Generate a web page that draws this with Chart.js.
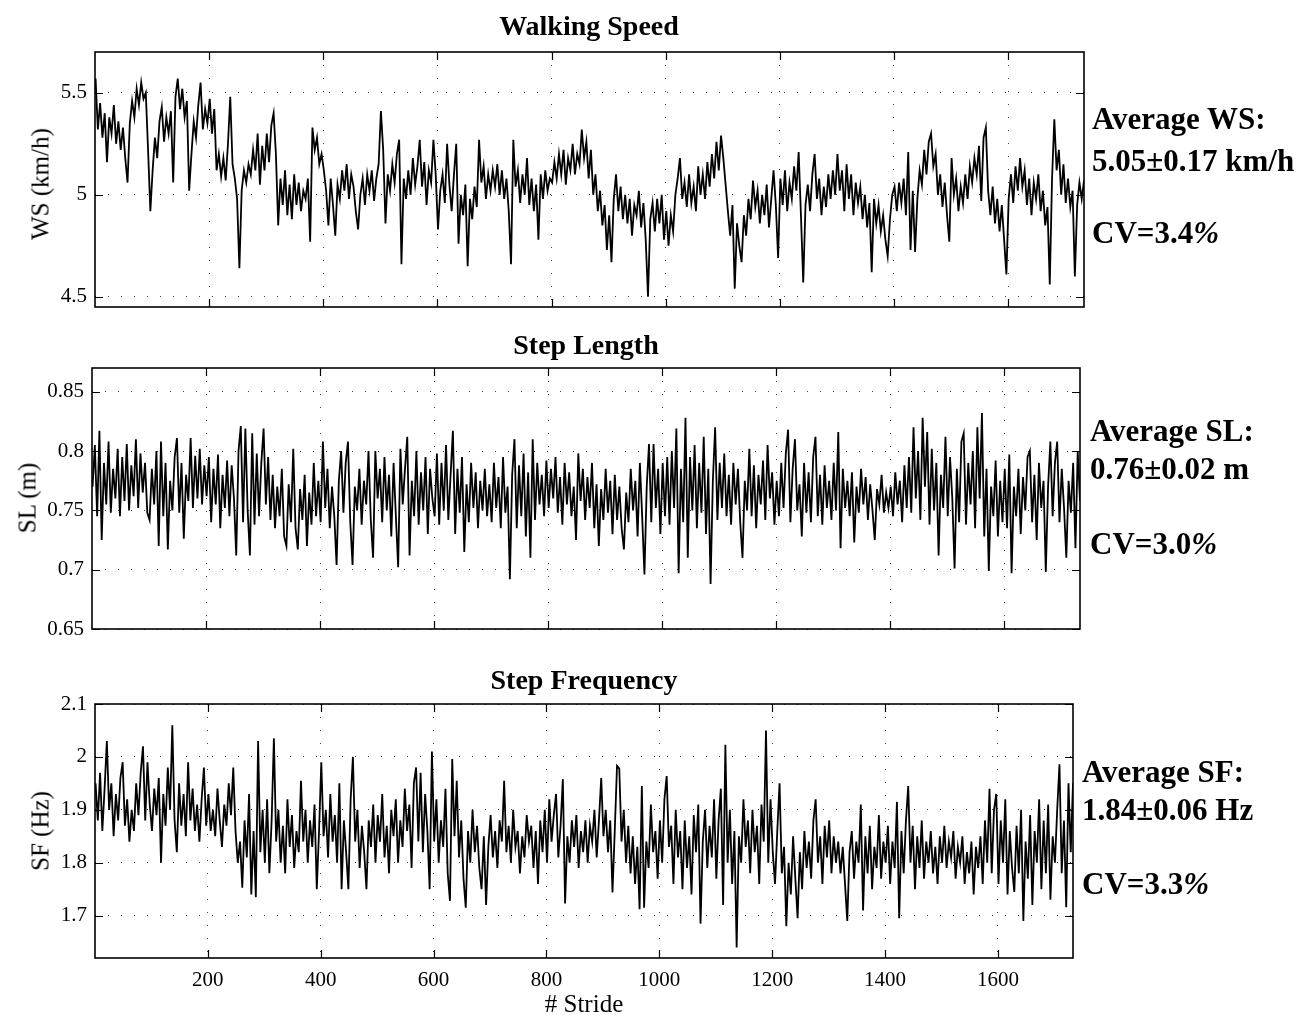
<!DOCTYPE html>
<html>
<head>
<meta charset="utf-8">
<title>Walking Speed / Step Length / Step Frequency</title>
<script src="https://cdn.jsdelivr.net/npm/chart.js@4.4.1/dist/chart.umd.min.js"></script>
<style>
  html, body { margin: 0; padding: 0; background: #fff; }
  #page { position: relative; width: 1302px; height: 1015px; overflow: hidden;
          font-family: "Liberation Serif", "Times New Roman", serif; color: #000; }
  canvas { position: absolute; left: 0; }
  .lbl { position: absolute; white-space: nowrap; line-height: 1; }
  .title { font-weight: bold; font-size: 28px; transform: translateX(-50%); }
  .ylab { font-size: 25px; transform: translate(-50%, -50%) rotate(-90deg); }
  .xlab { font-size: 25px; transform: translateX(-50%); }
  .note { font-weight: bold; font-size: 31px; }
  .note i { font-weight: bold; }
</style>
</head>
<body>
<div id="page">
  <canvas id="wsChart" width="1302" height="280" style="top:40px"></canvas>
  <canvas id="slChart" width="1302" height="295" style="top:355px"></canvas>
  <canvas id="sfChart" width="1302" height="325" style="top:690px"></canvas>

  <div class="lbl title" style="left:589px; top:12px">Walking Speed</div>
  <div class="lbl title" style="left:586px; top:331px">Step Length</div>
  <div class="lbl title" style="left:584px; top:666px">Step Frequency</div>

  <div class="lbl ylab" style="left:40px; top:184px">WS (km/h)</div>
  <div class="lbl ylab" style="left:27px; top:498px">SL (m)</div>
  <div class="lbl ylab" style="left:40px; top:831px">SF (Hz)</div>
  <div class="lbl xlab" style="left:584px; top:991px"># Stride</div>

  <div class="lbl note" style="left:1092px; top:103px">Average WS:</div>
  <div class="lbl note" style="left:1092px; top:145px">5.05±0.17 km/h</div>
  <div class="lbl note" style="left:1092px; top:217px">CV=3.4<i>%</i></div>

  <div class="lbl note" style="left:1090px; top:415px">Average SL:</div>
  <div class="lbl note" style="left:1090px; top:453px">0.76±0.02 m</div>
  <div class="lbl note" style="left:1090px; top:528px">CV=3.0<i>%</i></div>

  <div class="lbl note" style="left:1082px; top:756px">Average SF:</div>
  <div class="lbl note" style="left:1082px; top:794px">1.84±0.06 Hz</div>
  <div class="lbl note" style="left:1082px; top:868px">CV=3.3<i>%</i></div>
</div>

<script>
// one value every 4th stride (1, 5, 9, ... 1733)
const firstStride = 1;
const strideStep = 4;
const strideMax = 1733;
const strideTicks = [200, 400, 600, 800, 1000, 1200, 1400, 1600];

// walking speed, km/h
const wsValues = [
  5.57,5.32,5.45,5.28,5.40,5.16,5.38,5.30,5.44,5.25,5.36,5.22,5.33,5.18,5.06,5.35,5.46,5.38,5.52,5.44,5.55,5.47,5.50,5.22,4.92,
  5.12,5.28,5.18,5.36,5.43,5.26,5.38,5.30,5.41,5.06,5.48,5.57,5.42,5.52,5.38,5.46,5.02,5.20,5.36,5.28,5.44,5.55,5.32,5.42,5.35,
  5.47,5.30,5.42,5.12,5.20,5.09,5.18,5.07,5.25,5.48,5.15,5.08,4.98,4.64,5.02,5.12,5.06,5.15,5.10,5.22,5.12,5.30,5.05,5.24,5.12,
  5.30,5.16,5.34,5.40,5.20,4.85,5.08,4.95,5.12,4.90,5.05,4.88,5.10,4.95,5.06,4.92,5.02,4.98,5.08,4.77,5.33,5.22,5.28,5.15,5.20,
  5.12,5.02,4.85,5.08,4.95,4.80,5.05,4.98,5.12,5.02,5.15,4.98,5.10,5.04,4.92,4.83,5.00,5.08,4.95,5.10,5.02,5.12,4.97,5.08,5.15,
  5.41,5.22,4.86,5.10,5.02,5.15,5.06,5.20,5.27,4.66,5.08,4.98,5.12,5.00,5.18,5.05,5.14,5.27,5.04,5.16,4.95,5.12,5.06,5.27,5.10,
  4.83,5.02,5.10,4.96,5.25,5.05,4.92,5.10,5.25,4.76,5.00,4.90,5.05,4.65,4.98,4.88,5.04,4.94,5.27,5.06,5.14,4.98,5.10,5.02,5.12,
  5.04,5.15,5.00,5.12,4.98,5.08,4.92,4.66,5.27,5.04,5.12,4.96,5.10,5.00,5.18,4.95,5.08,4.92,5.05,4.78,5.10,4.98,5.12,5.02,5.08,
  5.06,5.16,5.08,5.20,5.10,5.22,5.05,5.18,5.12,5.25,5.10,5.20,5.15,5.32,5.18,5.26,5.08,5.22,5.00,5.10,4.92,5.02,4.85,4.95,4.73,
  4.90,4.67,4.98,5.10,4.92,5.04,4.88,5.00,4.86,4.98,4.80,4.95,4.90,5.02,4.84,4.96,4.78,4.50,4.88,4.96,4.82,4.98,4.86,5.00,4.78,
  4.92,4.75,4.90,4.82,5.00,5.08,5.18,4.98,5.06,4.94,5.10,4.96,5.04,4.92,5.14,5.00,5.10,4.98,5.16,5.04,5.20,5.08,5.26,5.12,5.29,
  5.18,5.05,4.92,4.80,4.95,4.54,4.86,4.75,4.67,4.90,4.80,4.98,4.88,5.07,4.94,5.02,4.86,5.00,4.90,5.05,4.84,4.98,5.12,4.95,4.69,
  5.08,4.95,5.12,4.92,5.06,4.98,5.14,5.02,5.21,4.90,4.57,4.95,5.05,4.92,5.10,5.20,4.98,5.08,4.90,5.04,4.94,5.10,4.98,5.12,5.00,
  5.20,5.02,5.12,4.92,5.15,4.98,5.10,4.90,5.06,4.96,5.04,4.88,5.00,4.84,4.96,4.62,4.98,4.86,4.95,4.82,4.90,4.78,4.70,4.88,5.00,
  5.04,4.92,5.06,4.96,5.08,4.90,5.21,4.73,5.02,4.72,4.98,5.12,5.05,5.22,5.10,5.26,5.30,5.14,5.20,5.00,5.10,4.94,5.06,4.90,4.77,
  5.18,5.00,5.08,4.92,5.04,4.96,5.10,4.98,5.14,5.06,5.18,5.10,5.24,4.97,5.28,5.33,5.02,4.90,5.04,4.86,4.98,4.82,4.95,4.78,4.61,
  4.98,5.10,4.96,5.14,5.02,5.18,5.04,5.12,4.95,5.08,4.90,5.06,4.98,5.10,4.92,5.02,4.85,4.94,4.56,5.08,5.37,5.12,5.22,5.00,5.15,
  4.96,5.08,4.94,5.02,4.60,4.95,5.06,4.98,5.07
];

// step length, m
const slValues = [
  0.770,0.805,0.745,0.817,0.725,0.790,0.755,0.808,0.748,0.785,0.760,0.802,0.745,0.795,0.758,0.806,0.750,0.788,0.762,0.810,0.752,0.798,0.765,0.790,0.748,
  0.742,0.785,0.755,0.800,0.720,0.808,0.745,0.790,0.717,0.775,0.750,0.795,0.811,0.748,0.790,0.726,0.780,0.758,0.811,0.752,0.796,0.760,0.802,0.755,0.788,
  0.762,0.795,0.740,0.785,0.755,0.797,0.735,0.780,0.752,0.792,0.745,0.788,0.760,0.712,0.800,0.821,0.740,0.819,0.750,0.712,0.815,0.738,0.798,0.745,0.790,
  0.819,0.755,0.795,0.742,0.780,0.735,0.770,0.745,0.785,0.728,0.720,0.772,0.740,0.802,0.735,0.717,0.768,0.742,0.780,0.720,0.765,0.738,0.790,0.745,0.775,
  0.740,0.808,0.752,0.785,0.735,0.770,0.745,0.704,0.775,0.800,0.748,0.790,0.808,0.740,0.704,0.770,0.750,0.785,0.738,0.775,0.755,0.800,0.742,0.710,0.800,
  0.760,0.785,0.740,0.795,0.750,0.780,0.728,0.790,0.745,0.702,0.802,0.755,0.785,0.812,0.712,0.775,0.745,0.800,0.738,0.782,0.750,0.795,0.730,0.785,0.760,
  0.745,0.798,0.738,0.790,0.750,0.805,0.742,0.780,0.817,0.730,0.785,0.748,0.795,0.715,0.772,0.740,0.790,0.752,0.782,0.735,0.775,0.750,0.785,0.745,0.772,
  0.740,0.790,0.752,0.778,0.735,0.795,0.748,0.770,0.692,0.780,0.810,0.735,0.788,0.745,0.798,0.728,0.782,0.710,0.810,0.742,0.790,0.755,0.780,0.745,0.792,
  0.752,0.785,0.760,0.795,0.748,0.778,0.738,0.790,0.755,0.782,0.745,0.770,0.725,0.798,0.758,0.785,0.742,0.778,0.752,0.790,0.735,0.772,0.720,0.768,0.742,
  0.785,0.748,0.775,0.730,0.780,0.742,0.770,0.735,0.717,0.765,0.740,0.785,0.750,0.775,0.728,0.790,0.745,0.696,0.770,0.806,0.740,0.806,0.752,0.785,0.730,
  0.790,0.745,0.795,0.738,0.800,0.752,0.819,0.697,0.785,0.740,0.828,0.710,0.795,0.750,0.805,0.735,0.790,0.748,0.812,0.730,0.785,0.688,0.775,0.820,0.742,
  0.790,0.752,0.798,0.745,0.780,0.738,0.790,0.755,0.785,0.740,0.710,0.775,0.750,0.802,0.745,0.788,0.735,0.780,0.755,0.792,0.742,0.805,0.760,0.782,0.738,
  0.775,0.745,0.790,0.752,0.798,0.818,0.740,0.785,0.810,0.750,0.772,0.728,0.790,0.748,0.782,0.740,0.795,0.812,0.745,0.780,0.738,0.788,0.752,0.775,0.742,
  0.790,0.750,0.816,0.718,0.785,0.752,0.775,0.745,0.782,0.723,0.770,0.748,0.785,0.755,0.778,0.742,0.772,0.750,0.725,0.768,0.755,0.780,0.748,0.765,0.752,
  0.770,0.745,0.782,0.755,0.775,0.740,0.788,0.752,0.795,0.748,0.820,0.760,0.800,0.742,0.828,0.770,0.816,0.738,0.802,0.750,0.790,0.712,0.780,0.752,0.812,
  0.745,0.795,0.760,0.701,0.785,0.740,0.808,0.815,0.738,0.790,0.755,0.800,0.735,0.820,0.760,0.832,0.728,0.785,0.699,0.770,0.745,0.792,0.728,0.775,0.740,
  0.785,0.735,0.797,0.697,0.770,0.745,0.785,0.730,0.778,0.750,0.795,0.800,0.740,0.780,0.725,0.790,0.752,0.775,0.698,0.770,0.808,0.745,0.790,0.808,0.740,
  0.785,0.752,0.710,0.775,0.748,0.790,0.718,0.800,0.758
];

// step frequency, Hz
const sfValues = [
  1.95,1.88,1.97,1.86,1.94,2.03,1.90,1.95,1.85,1.93,1.88,1.96,1.99,1.87,1.92,1.84,1.90,1.86,1.95,1.89,1.97,2.02,1.88,1.99,1.91,
  1.86,1.94,1.89,1.96,1.80,1.93,1.87,1.98,1.90,2.06,1.88,1.82,1.95,1.87,1.93,1.85,1.99,1.88,1.94,1.86,1.91,1.84,1.92,1.98,1.87,
  1.93,1.86,1.90,1.85,1.94,1.88,1.83,1.91,1.87,1.95,1.89,1.98,1.86,1.80,1.84,1.753,1.88,1.81,1.93,1.74,1.86,1.735,2.03,1.82,1.90,
  1.80,1.92,1.78,1.88,2.035,1.84,1.90,1.80,1.87,1.78,1.92,1.83,1.89,1.79,1.86,1.82,1.955,1.84,1.90,1.80,1.88,1.83,1.91,1.75,1.86,
  1.99,1.85,1.90,1.81,1.93,1.84,1.89,1.80,1.95,1.75,1.88,1.82,1.75,1.92,2.00,1.84,1.90,1.79,1.87,1.82,1.75,1.88,1.83,1.91,1.80,
  1.89,1.84,1.93,1.81,1.87,1.78,1.90,1.85,1.92,1.80,1.88,1.83,1.94,1.86,1.91,1.79,1.95,1.98,1.84,1.97,1.82,1.93,1.86,1.75,2.01,
  1.84,1.92,1.80,1.88,1.83,1.94,1.78,1.728,1.996,1.85,1.955,1.81,1.88,1.77,1.715,1.86,1.80,1.90,1.82,1.87,1.79,1.75,1.85,1.72,1.83,
  1.89,1.81,1.86,1.79,1.88,1.84,1.955,1.82,1.87,1.80,1.90,1.83,1.86,1.78,1.85,1.81,1.89,1.84,1.87,1.79,1.86,1.76,1.88,1.82,1.90,
  1.80,1.92,1.84,1.89,1.93,1.81,1.87,1.958,1.723,1.85,1.80,1.88,1.83,1.89,1.79,1.86,1.82,1.88,1.80,1.87,1.84,1.90,1.81,1.88,1.96,
  1.85,1.90,1.82,1.88,1.744,1.86,1.983,1.978,1.84,1.90,1.80,1.87,1.78,1.85,1.76,1.83,1.712,1.945,1.715,1.84,1.79,1.91,1.82,1.86,1.77,
  1.88,1.80,1.92,1.964,1.83,1.87,1.76,1.90,1.81,1.86,1.75,1.88,1.79,1.85,1.74,1.89,1.82,1.91,1.685,1.84,1.90,1.79,1.87,1.81,1.92,
  1.77,1.88,1.94,1.72,2.023,1.80,1.90,1.76,1.86,1.64,1.85,1.80,1.92,1.83,1.88,1.78,1.90,1.82,1.87,1.76,1.91,1.84,2.05,1.80,1.92,
  1.82,1.76,1.86,1.95,1.78,1.83,1.68,1.80,1.74,1.85,1.77,1.695,1.82,1.75,1.86,1.79,1.84,1.77,1.88,1.92,1.80,1.85,1.76,1.87,1.81,
  1.88,1.78,1.85,1.80,1.84,1.78,1.83,1.76,1.69,1.82,1.86,1.77,1.84,1.80,1.91,1.71,1.85,1.78,1.87,1.75,1.83,1.79,1.89,1.77,1.84,
  1.80,1.87,1.76,1.84,1.79,1.915,1.695,1.86,1.78,1.88,1.945,1.80,1.87,1.75,1.85,1.79,1.88,1.77,1.84,1.80,1.86,1.78,1.83,1.76,1.85,
  1.80,1.87,1.79,1.84,1.81,1.86,1.77,1.83,1.80,1.85,1.76,1.82,1.78,1.84,1.74,1.83,1.79,1.85,1.76,1.88,1.80,1.94,1.78,1.90,1.93,
  1.76,1.88,1.80,1.92,1.74,1.86,1.79,1.745,1.87,1.78,1.90,1.69,1.84,1.77,1.89,1.72,1.86,1.80,1.92,1.75,1.88,1.78,1.91,1.73,1.85,
  1.80,1.90,1.986,1.78,1.88,1.716,1.95,1.82,1.95
];

const wsTicks = [4.5, 5, 5.5];
const slTicks = [0.65, 0.7, 0.75, 0.8, 0.85];
const sfTicks = [1.7, 1.8, 1.9, 2, 2.1];

Chart.defaults.font.family = '"Liberation Serif", "Times New Roman", serif';
Chart.defaults.color = '#000';

// matlab style box with inward ticks on all four sides
const framePlugin = {
  id: 'frame',
  afterDraw(chart) {
    const ctx = chart.ctx;
    const a = chart.chartArea;
    const xs = chart.scales.x, ys = chart.scales.y;
    const len = 8;
    ctx.save();
    ctx.strokeStyle = '#000';
    ctx.lineWidth = 1.2;
    ctx.beginPath();
    xs.ticks.forEach(t => {
      const px = Math.round(xs.getPixelForValue(t.value)) + 0.5;
      ctx.moveTo(px, a.bottom); ctx.lineTo(px, a.bottom - len);
      ctx.moveTo(px, a.top); ctx.lineTo(px, a.top + len);
    });
    ys.ticks.forEach(t => {
      const py = Math.round(ys.getPixelForValue(t.value)) + 0.5;
      ctx.moveTo(a.left, py); ctx.lineTo(a.left + len, py);
      ctx.moveTo(a.right, py); ctx.lineTo(a.right - len, py);
    });
    ctx.stroke();
    ctx.lineWidth = 1.6;
    ctx.strokeRect(a.left, a.top, a.right - a.left, a.bottom - a.top);
    ctx.restore();
  }
};

function makePanel(canvasId, values, yMin, yMax, yTicks, geom, showX) {
  const points = values.map((v, i) => ({ x: firstStride + strideStep * i, y: v }));
  return new Chart(document.getElementById(canvasId), {
    type: 'line',
    data: {
      datasets: [{
        data: points,
        borderColor: '#000',
        borderWidth: 1.8,
        pointRadius: 0,
        tension: 0,
        fill: false
      }]
    },
    options: {
      responsive: false,
      animation: false,
      devicePixelRatio: 1,
      layout: { padding: { top: geom.padTop, right: geom.padRight, left: 0, bottom: 0 } },
      plugins: { legend: { display: false }, tooltip: { enabled: false } },
      scales: {
        x: {
          type: 'linear',
          min: 0,
          max: strideMax,
          afterBuildTicks: s => { s.ticks = strideTicks.map(v => ({ value: v })); },
          afterFit: s => { s.height = geom.xHeight; s.paddingLeft = 0; s.paddingRight = 0; },
          grid: { color: '#444', lineWidth: 1, drawTicks: false },
          border: { display: false, dash: [1, 12] },
          ticks: {
            display: showX, font: { size: 21 }, padding: 10,
            maxRotation: 0, autoSkip: false, callback: v => String(v)
          }
        },
        y: {
          min: yMin,
          max: yMax,
          afterBuildTicks: s => { s.ticks = yTicks.map(v => ({ value: v })); },
          afterFit: s => { s.width = geom.yWidth; s.paddingTop = 0; s.paddingBottom = 0; },
          grid: { color: '#444', lineWidth: 1, drawTicks: false },
          border: { display: false, dash: [1, 12] },
          ticks: { font: { size: 21 }, padding: 8, autoSkip: false, callback: v => String(v) }
        }
      }
    },
    plugins: [framePlugin]
  });
}

makePanel('wsChart', wsValues, 4.45, 5.7, wsTicks,
  { padTop: 12, padRight: 218, xHeight: 13, yWidth: 95 }, false);
makePanel('slChart', slValues, 0.65, 0.87, slTicks,
  { padTop: 13, padRight: 222, xHeight: 21, yWidth: 92 }, false);
makePanel('sfChart', sfValues, 1.62, 2.1, sfTicks,
  { padTop: 14, padRight: 229, xHeight: 57, yWidth: 95 }, true);
</script>
</body>
</html>
